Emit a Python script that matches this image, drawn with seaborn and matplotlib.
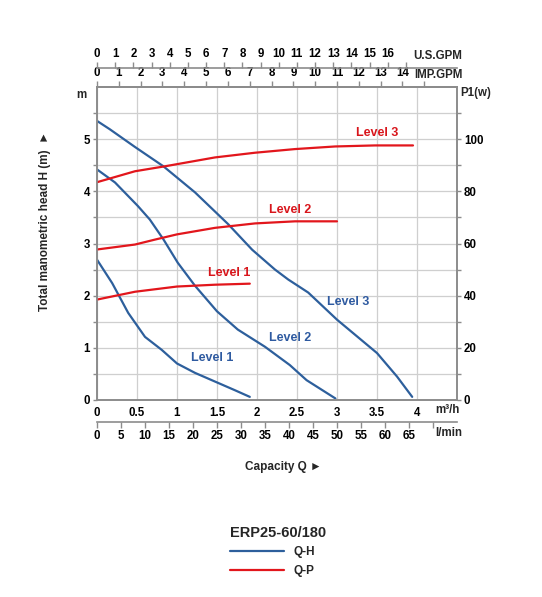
import pandas as pd
import seaborn as sns
import matplotlib.pyplot as plt
from matplotlib.lines import Line2D

sns.set_style("white")
plt.rcParams["font.family"] = ["Liberation Sans", "DejaVu Sans"]
plt.rcParams["font.weight"] = "bold"

# Q-H curves: capacity (m3/h) and head (m)
qh1_q = [0, 0.19, 0.39, 0.6, 0.81, 1.0, 1.225, 1.51, 1.72, 1.91]
qh1_h = [2.69, 2.24, 1.67, 1.21, 0.96, 0.70, 0.52, 0.33, 0.19, 0.06]
qh2_q = [0, 0.225, 0.51, 0.66, 0.83, 1.01, 1.225, 1.5, 1.76, 2.1, 2.41, 2.62, 2.98]
qh2_h = [4.42, 4.17, 3.72, 3.46, 3.08, 2.63, 2.19, 1.70, 1.35, 1.02, 0.67, 0.38, 0.03]
qh3_q = [0, 0.16, 0.475, 0.83, 1.225, 1.64, 1.94, 2.225, 2.39, 2.64, 3.0, 3.25, 3.5, 3.75, 3.94]
qh3_h = [5.35, 5.19, 4.85, 4.48, 3.98, 3.37, 2.88, 2.5, 2.31, 2.06, 1.54, 1.22, 0.9, 0.45, 0.06]

# Q-P curves: capacity (m3/h) and power P1 (W)
qp1_q = [0, 0.475, 1.0, 1.475, 1.91]
qp1_p = [38.5, 41.5, 43.5, 44.2, 44.6]
qp2_q = [0, 0.475, 0.725, 1.0, 1.475, 1.975, 2.475, 3.0]
qp2_p = [57.7, 59.6, 61.5, 63.5, 66.0, 67.7, 68.5, 68.5]
qp3_q = [0, 0.475, 0.85, 1.475, 1.975, 2.475, 2.975, 3.475, 3.95]
qp3_p = [83.5, 87.7, 89.6, 93.0, 94.8, 96.2, 97.2, 97.6, 97.6]

levels = ["Level 1", "Level 2", "Level 3"]

BLUE = "#2d5f9c"
RED = "#e2161c"
GRAY = "#8c8c8c"

fig = plt.figure(figsize=(5.42, 5.97), dpi=100)
ax = fig.add_axes([97 / 542, 1 - 400 / 597, 360 / 542, 313 / 597])
ax2 = ax.twinx()

for q, h in [(qh1_q, qh1_h), (qh2_q, qh2_h), (qh3_q, qh3_h)]:
    sns.lineplot(x=q, y=h, ax=ax, color=BLUE, linewidth=1.6, sort=False)
for q, p in [(qp1_q, qp1_p), (qp2_q, qp2_p), (qp3_q, qp3_p)]:
    sns.lineplot(x=q, y=p, ax=ax2, color=RED, linewidth=1.6, sort=False)

ax.set_xlim(0, 4.5)
ax.set_ylim(0, 6)
ax2.set_ylim(0, 120)

ax.set_xticks([0, 0.5, 1, 1.5, 2, 2.5, 3, 3.5, 4, 4.5])
ax.set_xticklabels(["0", "0.5", "1", "1.5", "2", "2.5", "3", "3.5", "4", ""])
ax.set_yticks([0, 1, 2, 3, 4, 5])
ax.set_yticks([0.5, 1.5, 2.5, 3.5, 4.5, 5.5], minor=True)
ax2.set_yticks([0, 20, 40, 60, 80, 100])
ax2.set_yticks([10, 30, 50, 70, 90, 110], minor=True)
ax.grid(True, which="both", color="#cfcfcf", linewidth=0.9)

for a in (ax, ax2):
    for s in a.spines.values():
        s.set_color(GRAY)
        s.set_linewidth(1.2)
    a.tick_params(which="both", colors=GRAY, labelcolor="black", labelsize=8.3,
                  length=3, width=1, pad=2)
ax.set_xlabel("")
ax.set_ylabel("")
ax2.set_ylabel("")

# top axes: imperial and US gallons per minute
imp = ax.secondary_xaxis("top", functions=(lambda q: q * 3.66615, lambda g: g / 3.66615))
imp.set_xticks(range(0, 16))
imp.set_xticklabels([str(i) for i in range(0, 15)] + [""])
usg = ax.secondary_xaxis(1.061, functions=(lambda q: q * 4.40287, lambda g: g / 4.40287))
usg.set_xticks(range(0, 18))
usg.set_xticklabels([str(i) for i in range(0, 17)] + [""])
# bottom l/min axis
lpm = ax.secondary_xaxis(-0.07, functions=(lambda q: q * 16.6667, lambda v: v / 16.6667))
lpm.set_xticks(range(0, 75, 5))
lpm.set_xticklabels([str(i) for i in range(0, 70, 5)] + [""])
for sec in (imp, usg, lpm):
    for s in sec.spines.values():
        s.set_color(GRAY)
        s.set_linewidth(1.2)
    sec.tick_params(colors=GRAY, labelcolor="black", labelsize=8.3, length=4, width=1, pad=1.5)

# curve labels
red_labels = [(1.65, 2.44), (2.41, 3.65), (3.5, 5.12)]
blue_labels = [(1.44, 0.8), (2.41, 1.19), (3.14, 1.88)]
for name, (x, y) in zip(levels, red_labels):
    ax.text(x, y, name, color="#d8151b", fontsize=9, fontweight="bold", ha="center", va="center")
for name, (x, y) in zip(levels, blue_labels):
    ax.text(x, y, name, color="#2e5aa0", fontsize=9, fontweight="bold", ha="center", va="center")

# units
ax.text(1.015, 1.061 + 0.038, "U.S.GPM", transform=ax.transAxes, fontsize=8.3, ha="right", va="center")
ax.text(1.015, 1.0 + 0.038, "IMP.GPM", transform=ax.transAxes, fontsize=8.3, ha="right", va="center")
ax.text(1.01, 0.98, "P1(w)", transform=ax.transAxes, fontsize=8.3, ha="left", va="center")
ax.text(-0.028, 0.975, "m", transform=ax.transAxes, fontsize=8.3, ha="right", va="center")
ax.text(0.94, -0.032, "m³/h", transform=ax.transAxes, fontsize=8.3, ha="left", va="center")
ax.text(0.94, -0.105, "l/min", transform=ax.transAxes, fontsize=8.3, ha="left", va="center")

fig.text(283 / 542, 1 - 467 / 597, "Capacity Q ►", fontsize=8.5, ha="center", va="center")
fig.text(45 / 542, 1 - 221 / 597, "Total manometric head H (m)  ►", fontsize=8.5,
         rotation=90, ha="center", va="center")

handles = [Line2D([0], [0], color=BLUE, linewidth=1.6),
           Line2D([0], [0], color=RED, linewidth=1.6)]
fig.legend(handles, ["Q-H", "Q-P"], title="ERP25-60/180", loc="upper left",
           bbox_to_anchor=(224 / 542, 1 - 520 / 597), frameon=False, alignment="left",
           handlelength=4.6, handletextpad=0.8, labelspacing=0.55, borderpad=0,
           prop={"size": 8.5, "weight": "bold"},
           title_fontproperties={"size": 10.5, "weight": "bold"})

plt.savefig("out.png", dpi=100)
